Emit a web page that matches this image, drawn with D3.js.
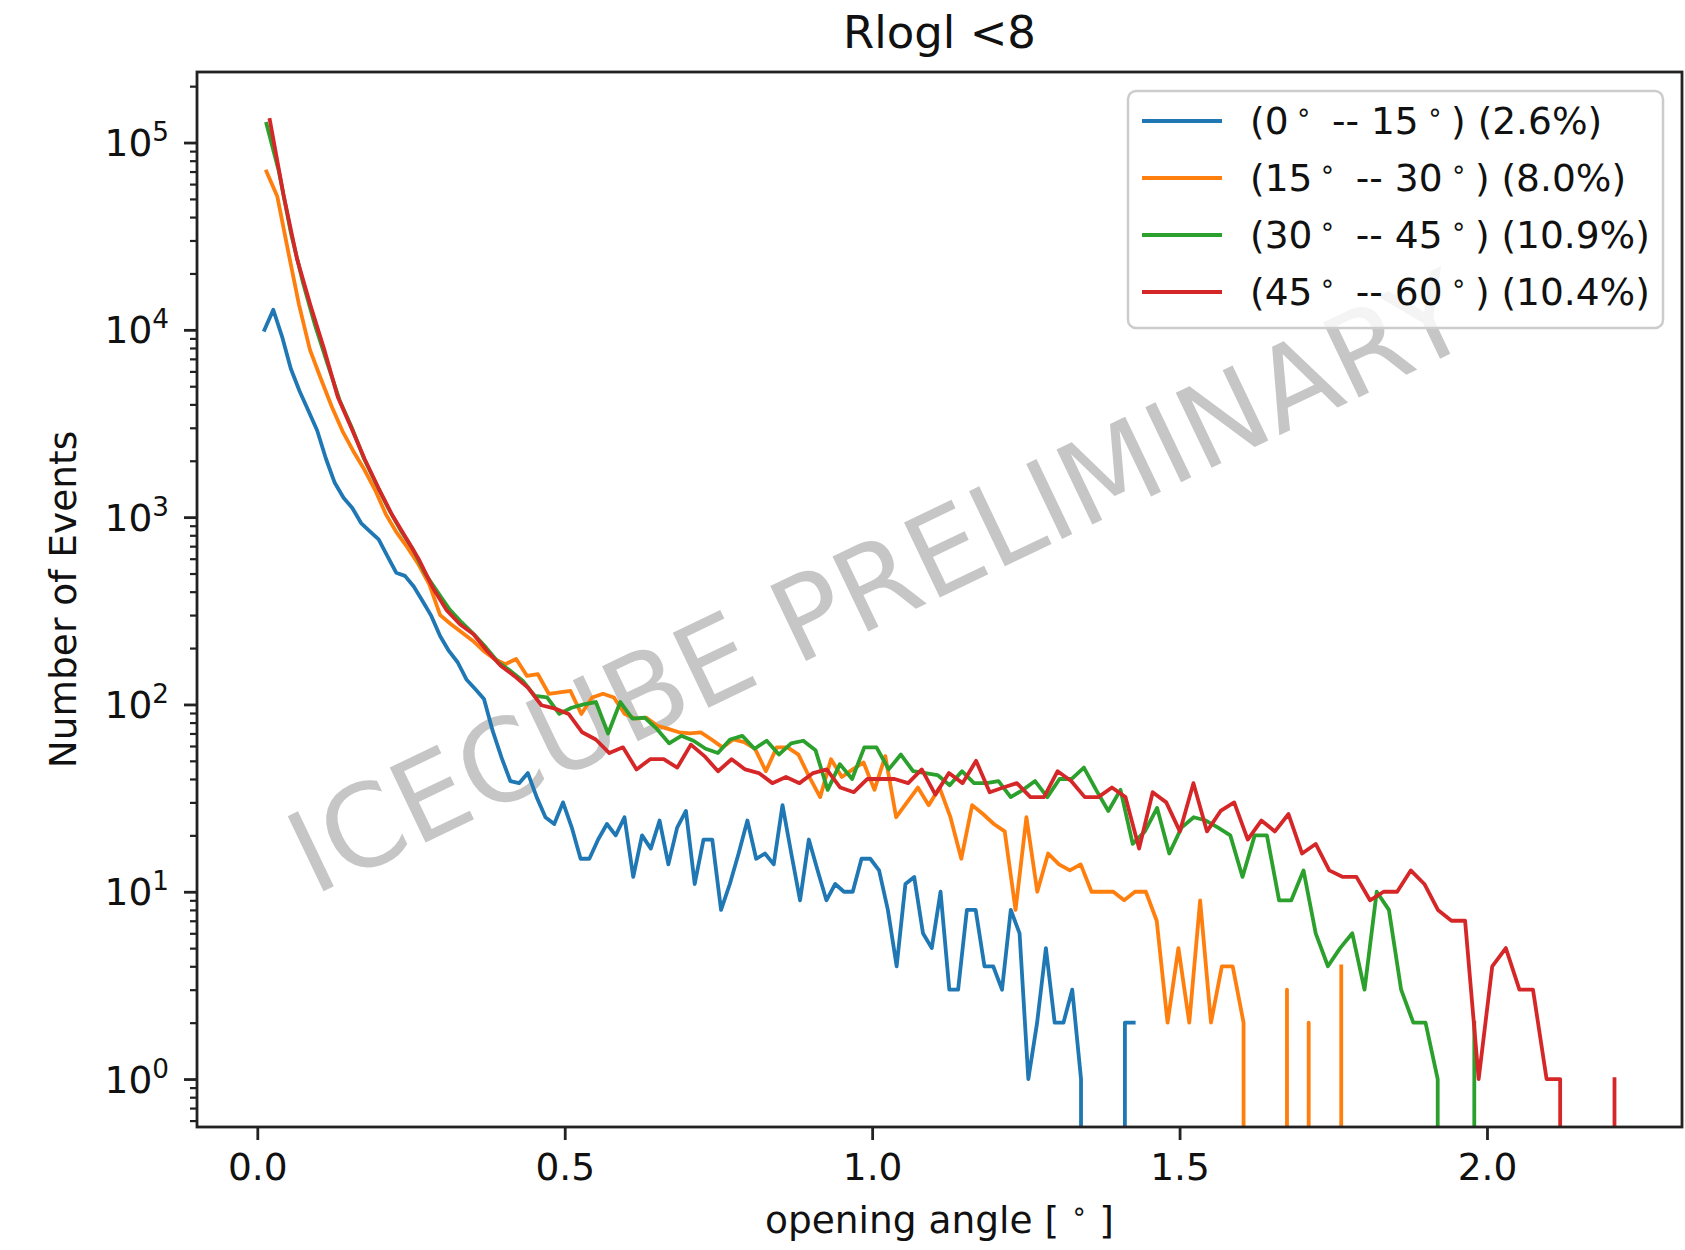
<!DOCTYPE html>
<html>
<head>
<meta charset="utf-8">
<script src="https://cdn.jsdelivr.net/npm/d3@7/dist/d3.min.js"></script>
<style>
  html, body { margin: 0; padding: 0; background: #fff; }
  svg { display: block; font-family: "DejaVu Sans", sans-serif; }
</style>
</head>
<body>
<div id="chart"></div>
<script>
// zenith bands, share of events and line colours (matplotlib tab10)
const bandLow = [0, 15, 30, 45];
const bandHigh = [15, 30, 45, 60];
const bandShare = ["2.6%", "8.0%", "10.9%", "10.4%"];
const bandColors = ["#1f77b4", "#ff7f0e", "#2ca02c", "#d62728"];

// centre of first and last histogram bin (degrees), 100 bins per band
const binFirst = [0.0117, 0.0149, 0.0149, 0.0203];
const binLast = [1.4254, 1.7630, 1.9794, 2.2074];

const counts0to15 = [
  10000, 12800, 9200, 6200, 4700, 3700, 2900, 2050, 1525, 1270, 1120, 930, 840, 760, 620, 505, 486, 426, 357, 297,
  232, 193, 168, 136, 121, 107, 72, 52, 39, 38, 43, 32, 25, 23, 30, 22, 15, 15, 19, 23,
  20, 25, 12, 20, 17, 24, 14, 22, 27, 11, 19, 19, 8, 11, 16, 24, 15, 16, 14, 29,
  16, 9, 19, 13, 9, 11, 10, 10, 15, 15, 13, 8, 4, 11, 12, 6, 5, 10, 3, 3,
  8, 8, 4, 4, 3, 8, 6, 1, 2, 5, 2, 2, 3, 1, 0, 0, 0, 0, 2, 2
];
const counts15to30 = [
  70000, 51500, 26200, 13600, 7840, 5500, 3910, 2880, 2250, 1800, 1400, 1035, 826, 687, 560, 438, 300, 268, 242, 219,
  193, 175, 164, 175, 142, 145, 114, 116, 118, 89, 109, 114, 109, 89, 84, 85, 77, 74, 71, 70,
  71, 65, 59, 65, 63, 58, 44, 59, 59, 54, 41, 32, 51, 41, 45, 49, 35, 53, 25, 30,
  36, 29, 36, 25, 15, 29, 26, 23, 21, 8, 25, 10, 16, 14, 13, 14, 10, 10, 10, 9,
  10, 10, 7, 2, 5, 2, 9, 2, 4, 4, 2, 0, 0, 0, 3, 0, 2, 0, 0, 4
];
const counts30to45 = [
  126000, 71000, 33000, 17800, 10500, 6600, 4200, 3000, 2050, 1500, 1110, 850, 675, 500, 400, 322, 274, 237, 201, 168,
  151, 134, 111, 109, 89, 96, 100, 103, 70, 103, 84, 85, 74, 62, 68, 64, 58, 55, 65, 68,
  58, 64, 54, 62, 64, 57, 35, 48, 40, 59, 59, 45, 54, 44, 43, 42, 37, 44, 38, 38,
  39, 32, 35, 39, 32, 40, 40, 46, 35, 27, 35, 18, 21, 28, 16, 22, 25, 24, 22, 20,
  12, 20, 20, 9, 9, 13, 6, 4, 5, 6, 3, 10, 8, 3, 2, 2, 1, 0, 0, 2
];
const counts45to60 = [
  132000, 53000, 24000, 13500, 7900, 4400, 3000, 2030, 1430, 1030, 780, 590, 420, 320, 268, 237, 193, 161, 142, 123,
  99, 95, 89, 71, 65, 55, 59, 45, 51, 51, 46, 61, 53, 44, 51, 45, 43, 38, 41, 38,
  43, 45, 36, 34, 40, 40, 40, 38, 45, 33, 43, 38, 50, 34, 36, 38, 32, 32, 44, 39,
  32, 32, 36, 32, 17, 34, 30, 21, 38, 21, 27, 30, 19, 24, 21, 26, 16, 18, 13, 12,
  12, 9, 10, 10, 13, 11, 8, 7, 7, 1, 4, 5, 3, 3, 1, 1, 0, 0, 0, 1
];
const allCounts = [counts0to15, counts15to30, counts30to45, counts45to60];

const xTicks = [0, 0.5, 1.0, 1.5, 2.0];
const yTickPowers = [0, 1, 2, 3, 4, 5];

const breedte = 1685, hoogte = 1250;
const rand = { boven: 72, beneden: 123, links: 197, rechts: 3 };
const fs = 37.5;
const sup = 13; // superscript shift in px

const series = allCounts.map((counts, s) => {
  const n = counts.length;
  const stap = (binLast[s] - binFirst[s]) / (n - 1);
  return counts.map((c, i) => ({ x: binFirst[s] + i * stap, y: c }));
});

// matplotlib style 5% margins
const allX = series.flat().map(d => d.x);
const xmin = d3.min(allX), xmax = d3.max(allX);
const xpad = (xmax - xmin) * 0.05;
const logs = series.flat().filter(d => d.y > 0).map(d => Math.log10(d.y));
const lmin = d3.min(logs), lmax = d3.max(logs);
const lpad = (lmax - lmin) * 0.05;

const x = d3.scaleLinear()
  .domain([xmin - xpad, xmax + xpad])
  .range([rand.links, breedte - rand.rechts]);
const y = d3.scaleLog()
  .domain([Math.pow(10, lmin - lpad), Math.pow(10, lmax + lpad)])
  .range([hoogte - rand.beneden, rand.boven]);

const svg = d3.select("#chart").append("svg")
  .attr("width", breedte)
  .attr("height", hoogte);

svg.append("rect").attr("width", breedte).attr("height", hoogte).attr("fill", "#fff");

svg.append("defs").append("clipPath").attr("id", "plotclip")
  .append("rect")
  .attr("x", rand.links).attr("y", rand.boven)
  .attr("width", breedte - rand.links - rand.rechts)
  .attr("height", hoogte - rand.boven - rand.beneden);

// watermark
svg.append("text")
  .attr("transform", "translate(878,583) rotate(-25.5)")
  .attr("text-anchor", "middle")
  .attr("dominant-baseline", "central")
  .attr("font-size", 114)
  .attr("fill", "#c6c6c6")
  .text("ICECUBE PRELIMINARY");

// zero bins are clipped far below the axis like matplotlib does
const lijn = d3.line()
  .x(d => x(d.x))
  .y(d => y(d.y > 0 ? d.y : 1e-300));

svg.append("g").attr("clip-path", "url(#plotclip)")
  .selectAll("path")
  .data(series)
  .join("path")
  .attr("d", lijn)
  .attr("fill", "none")
  .attr("stroke", (_, i) => bandColors[i])
  .attr("stroke-width", 3.8)
  .attr("stroke-linejoin", "round")
  .attr("stroke-linecap", "square");

// x axis
const xAxis = svg.append("g")
  .attr("transform", `translate(0,${hoogte - rand.beneden})`)
  .call(d3.axisBottom(x).tickValues(xTicks).tickFormat(d3.format(".1f")).tickSize(13).tickPadding(13));
xAxis.select(".domain").remove();
xAxis.selectAll("line").attr("stroke", "#222").attr("stroke-width", 2.8);
xAxis.selectAll("text").attr("font-size", fs).attr("font-family", "DejaVu Sans").attr("fill", "#111");

// y axis, minor ticks
const minor = [];
for (let p = -1; p <= 5; p++) for (let m = 2; m <= 9; m++) {
  const v = m * Math.pow(10, p);
  if (v >= y.domain()[0] && v <= y.domain()[1]) minor.push(v);
}
const yMinor = svg.append("g")
  .attr("transform", `translate(${rand.links},0)`)
  .call(d3.axisLeft(y).tickValues(minor).tickSize(7).tickFormat(""));
yMinor.select(".domain").remove();
yMinor.selectAll("line").attr("stroke", "#222").attr("stroke-width", 2.2);

const yAxis = svg.append("g")
  .attr("transform", `translate(${rand.links},0)`)
  .call(d3.axisLeft(y).tickValues(yTickPowers.map(p => Math.pow(10, p))).tickSize(13).tickFormat(""));
yAxis.select(".domain").remove();
yAxis.selectAll("line").attr("stroke", "#222").attr("stroke-width", 2.8);
yAxis.selectAll(".tick").each(function (d, i) {
  const t = d3.select(this).append("text")
    .attr("x", -28)
    .attr("y", 13)
    .attr("text-anchor", "end")
    .attr("font-size", fs)
    .attr("font-family", "DejaVu Sans")
    .attr("fill", "#111");
  t.append("tspan").text("10");
  t.append("tspan").attr("dy", -sup - 2).attr("font-size", fs * 0.7).text(yTickPowers[i]);
});

// frame
svg.append("rect")
  .attr("x", rand.links).attr("y", rand.boven)
  .attr("width", breedte - rand.links - rand.rechts)
  .attr("height", hoogte - rand.boven - rand.beneden)
  .attr("fill", "none")
  .attr("stroke", "#222")
  .attr("stroke-width", 2.8);

// titles
svg.append("text")
  .attr("x", (rand.links + breedte - rand.rechts) / 2).attr("y", 48)
  .attr("text-anchor", "middle").attr("font-size", 45).attr("fill", "#111")
  .text("Rlogl <8");

const xl = svg.append("text")
  .attr("x", (rand.links + breedte - rand.rechts) / 2).attr("y", 1233)
  .attr("text-anchor", "middle").attr("font-size", fs).attr("fill", "#111");
xl.append("tspan").text("opening angle [ ");
xl.append("tspan").attr("dy", -sup).attr("font-size", fs * 0.7).text("∘");
xl.append("tspan").attr("dy", sup).text(" ]");

svg.append("text")
  .attr("transform", `translate(75.5,${(rand.boven + hoogte - rand.beneden) / 2}) rotate(-90)`)
  .attr("text-anchor", "middle").attr("font-size", fs).attr("fill", "#111")
  .text("Number of Events");

// legend
const lg = svg.append("g");
lg.append("rect")
  .attr("x", 1128).attr("y", 91).attr("width", 535).attr("height", 237)
  .attr("rx", 8)
  .attr("fill", "#fff").attr("fill-opacity", 0.8)
  .attr("stroke", "#cccccc").attr("stroke-width", 2.5);
bandLow.forEach((lo, i) => {
  const cy = 121 + i * 57;
  lg.append("line")
    .attr("x1", 1142).attr("x2", 1222).attr("y1", cy).attr("y2", cy)
    .attr("stroke", bandColors[i]).attr("stroke-width", 3.8);
  const t = lg.append("text")
    .attr("x", 1250).attr("y", cy + 13)
    .attr("font-size", fs).attr("fill", "#111");
  t.append("tspan").text("(" + lo);
  t.append("tspan").attr("dx", 7).attr("dy", -sup).attr("font-size", fs * 0.7).text("∘");
  t.append("tspan").attr("dx", 20).attr("dy", sup).text("-- " + bandHigh[i]);
  t.append("tspan").attr("dx", 8).attr("dy", -sup).attr("font-size", fs * 0.7).text("∘");
  t.append("tspan").attr("dx", 8).attr("dy", sup).text(") (" + bandShare[i] + ")");
});
</script>
</body>
</html>
